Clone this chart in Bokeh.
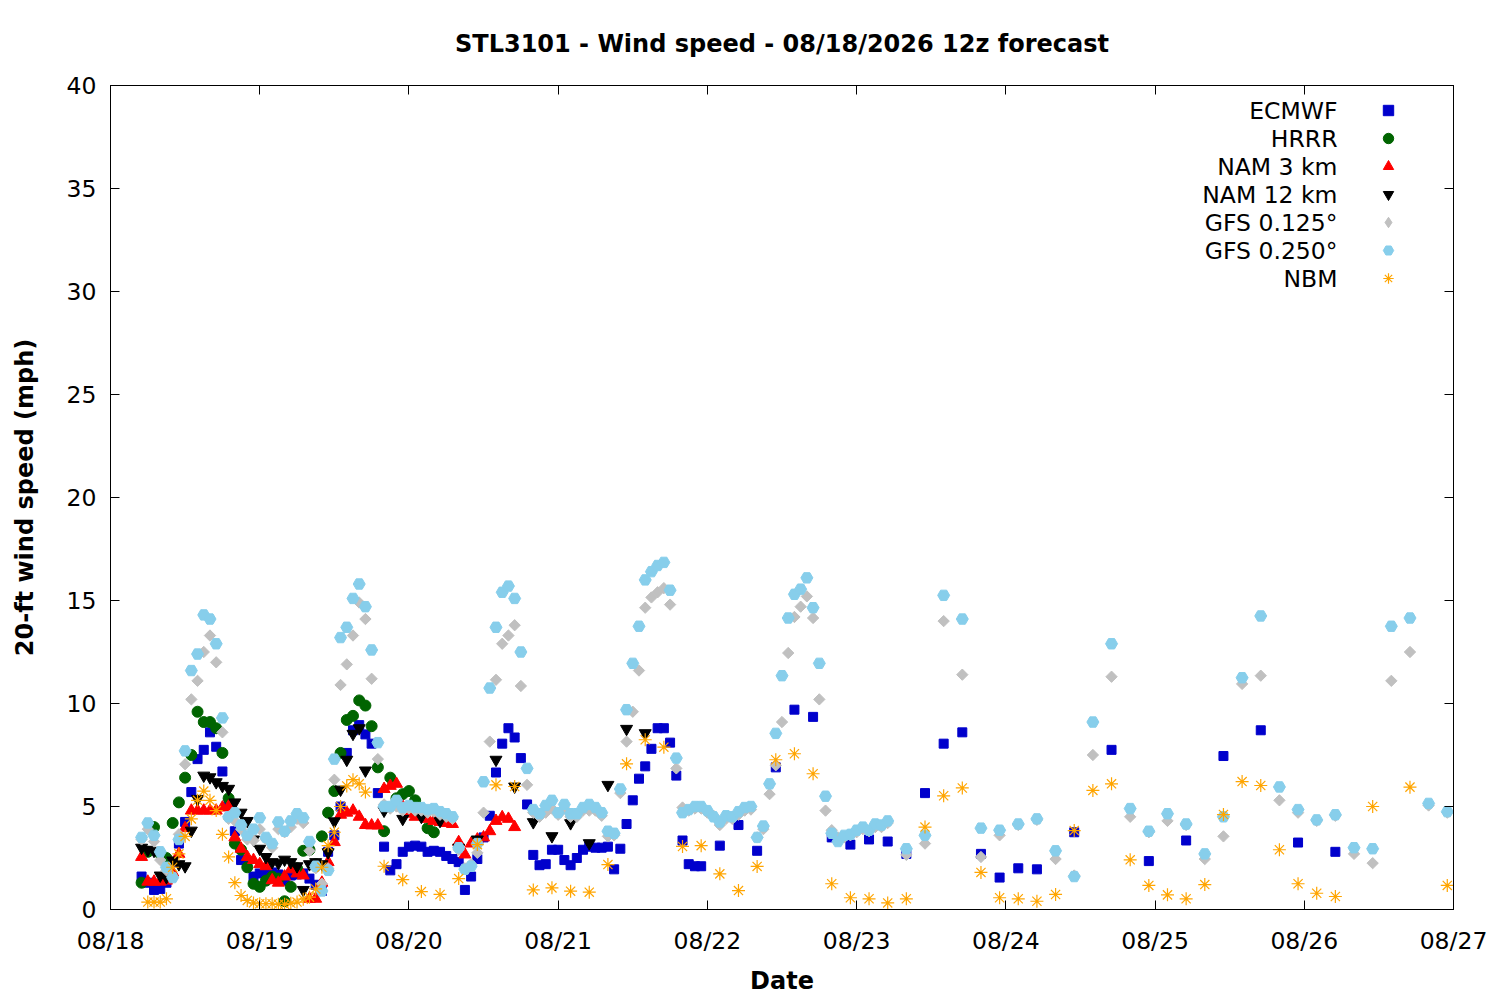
from bokeh.plotting import figure
from bokeh.models import Range1d, FixedTicker, LinearAxis, Legend, LegendItem, Label
from bokeh.embed import file_html
from bokeh.resources import INLINE

FONT = "DejaVu Sans"
FS = "23.5px"

# ---------------- axes / labels ----------------
title_text = "STL3101 - Wind speed - 08/18/2026 12z forecast"
day_labels = ["08/18", "08/19", "08/20", "08/21", "08/22", "08/23", "08/24", "08/25", "08/26", "08/27"]
day_hours = [0, 24, 48, 72, 96, 120, 144, 168, 192, 216]   # hours since 08/18 00:00
y_ticks = [0, 5, 10, 15, 20, 25, 30, 35, 40]
series_names = ["ECMWF", "HRRR", "NAM 3 km", "NAM 12 km", "GFS 0.125\u00b0", "GFS 0.250\u00b0", "NBM"]

# ---------------- data (mph) ----------------
ecmwf_hours = list(range(5, 96)) + list(range(98, 150, 3)) + list(range(155, 198, 6))
ecmwf_mph = [
    1.6, 1.3, 0.95, 1.0, 1.3, 2.3, 3.2, 4.25, 5.7, 7.3,
    7.75, 8.6, 7.9, 6.7, 5.2, 3.8, 2.4, 2.2, 1.6, 1.75,
    1.75, 1.8, 1.7, 1.4, 1.65, 1.7, 1.75, 1.5, 1.2, 0.9,
    2.8, 3.6, 5.0, 7.6, 8.7, 8.95, 8.5, 8.05, 5.65, 3.05,
    1.9, 2.2, 2.8, 3.05, 3.1, 3.05, 2.8, 2.85, 2.8, 2.6,
    2.45, 2.3, 0.95, 1.6, 2.45, 3.5, 4.55, 6.65, 8.05, 8.8,
    8.35, 7.35, 5.1, 2.65, 2.15, 2.2, 2.9, 2.9, 2.4, 2.15,
    2.5, 2.9, 3.05, 3.0, 3.0, 3.05, 1.95, 2.95, 4.15, 5.3,
    6.35, 6.95, 7.8, 8.8, 8.8, 8.1, 6.5, 3.35, 2.2, 2.1, 2.1,
    3.1, 4.1, 2.85, 6.9, 9.7, 9.35, 3.5, 3.15, 3.4, 3.3, 2.7, 5.65, 8.05, 8.6, 2.7, 1.55, 2.0, 1.95,
    3.75, 7.75, 2.35, 3.35, 7.45, 8.7, 3.25, 2.8,
]

hrrr_hours = list(range(5, 53))
hrrr_mph = [
    1.3, 2.8, 4.0, 2.7, 2.5, 4.2, 5.2, 6.4, 7.5, 9.6,
    9.1, 9.1, 8.8, 7.6, 5.4, 3.2, 2.9, 2.05, 1.25, 1.1,
    1.4, 1.6, 1.5, 0.4, 1.1, 2.0, 2.85, 2.9, 2.2, 3.55,
    4.7, 5.75, 7.6, 9.2, 9.4, 10.15, 9.9, 8.9, 6.9, 3.8,
    6.4, 5.4, 5.6, 5.75, 5.3, 4.6, 3.95, 3.75,
]

nam3_hours = list(range(5, 66))
nam3_mph = [
    2.55, 1.35, 1.35, 1.35, 1.4, 1.8, 2.7, 3.95, 4.8, 4.8,
    4.8, 4.8, 4.8, 4.95, 5.0, 3.5, 2.95, 2.55, 2.4, 2.2,
    2.1, 1.42, 1.3, 1.6, 1.95, 1.75, 1.65, 0.52, 0.52, 1.3,
    2.3, 3.27, 4.6, 4.7, 4.8, 4.5, 4.1, 4.08, 4.08, 5.85,
    6.0, 6.1, 5.0, 4.65, 4.5, 4.55, 4.4, 4.3, 4.25, 4.2,
    4.15, 3.27, 2.67, 3.2, 3.4, 3.5, 3.8, 4.3, 4.48, 4.4, 4.0,
]

nam12_hours = list(range(5, 42)) + list(range(44, 87, 3))
nam12_mph = [
    3.0, 2.9, 2.85, 1.65, 1.57, 2.38, 2.2, 2.1, 3.83, 5.37,
    6.5, 6.42, 6.18, 6.0, 5.86, 5.2, 4.7, 4.3, 3.4, 2.95,
    2.55, 2.3, 2.25, 2.42, 2.3, 2.1, 0.95, 2.2, 2.3, 2.2,
    2.78, 4.28, 5.82, 7.27, 8.53, 8.8, 6.75,
    4.8, 4.4, 4.5, 4.3, 3.0, 3.4, 7.27, 5.97, 4.24, 3.56, 4.19, 3.22, 6.05, 8.77, 8.56,
]

gfs_hours = list(range(5, 126)) + list(range(128, 216, 3))
gfs125_mph = [
    3.4, 3.9, 3.3, 2.4, 1.9, 1.6, 3.65, 7.05, 10.2, 11.1,
    12.5, 13.3, 12.0, 8.6, 4.4, 4.3, 3.9, 3.4, 3.35, 3.9,
    3.4, 3.0, 3.9, 3.75, 4.0, 4.4, 4.2, 2.85, 2.0, 1.25,
    2.0, 6.3, 10.9, 11.9, 13.3, 14.9, 14.1, 11.2, 7.3, 5.1,
    4.9, 5.0, 4.8, 4.9, 4.8, 4.8, 4.7, 4.75, 4.6, 4.5,
    4.4, 2.9, 2.0, 2.2, 2.75, 4.7, 8.15, 11.15, 12.9, 13.3,
    13.8, 10.85, 6.05, 4.7, 4.5, 4.7, 4.9, 4.6, 4.9, 4.5,
    4.5, 4.8, 4.8, 4.8, 4.55, 3.55, 3.6, 5.65, 8.15, 9.6,
    11.6, 14.65, 15.15, 15.4, 15.6, 14.8, 6.85, 4.95, 4.8, 4.9,
    4.9, 4.7, 4.55, 4.1, 4.4, 4.4, 4.6, 4.8, 4.85, 3.5,
    3.9, 5.6, 7.0, 9.1, 12.45, 14.2, 14.7, 15.2, 14.15, 10.2,
    4.8, 3.85, 3.5, 3.5, 3.6, 3.75, 3.9, 3.8, 4.0, 4.0, 4.2,
    2.65, 3.2, 14.0, 11.4, 2.55, 3.6, 4.1, 4.35, 2.45, 1.65,
    7.5, 11.3, 4.5, 3.75, 4.3, 4.1, 2.45, 3.55, 10.95, 11.35,
    5.3, 4.7, 4.3, 4.55, 2.7, 2.25, 11.1, 12.5, 5.05, 4.7,
]
gfs250_mph = [
    3.5, 4.2, 3.6, 2.8, 2.05, 1.55, 3.4, 7.7, 11.6, 12.4,
    14.3, 14.1, 12.9, 9.3, 4.5, 4.7, 4.1, 3.6, 3.9, 4.45,
    3.5, 3.2, 4.25, 3.8, 4.3, 4.65, 4.45, 3.3, 2.1, 0.9,
    1.9, 7.3, 13.2, 13.7, 15.1, 15.8, 14.7, 12.6, 8.1, 5.0,
    5.0, 5.3, 4.95, 5.05, 4.95, 4.95, 4.85, 4.9, 4.75, 4.65,
    4.5, 3.0, 1.95, 2.1, 3.2, 6.2, 10.75, 13.7, 15.4, 15.7,
    15.1, 12.5, 6.85, 4.85, 4.65, 5.05, 5.3, 4.7, 5.1, 4.65,
    4.65, 4.95, 5.1, 4.95, 4.7, 3.8, 3.7, 5.85, 9.7, 11.95,
    13.75, 16.0, 16.4, 16.7, 16.85, 15.5, 7.35, 4.7, 4.85, 5.0,
    5.0, 4.8, 4.5, 4.25, 4.55, 4.5, 4.75, 4.95, 5.0, 3.5,
    4.05, 6.1, 8.55, 11.35, 14.15, 15.3, 15.55, 16.1, 14.65, 11.95,
    5.5, 3.7, 3.3, 3.6, 3.65, 3.85, 4.0, 3.85, 4.15, 4.1, 4.3,
    2.95, 3.6, 15.25, 14.1, 3.95, 3.85, 4.15, 4.4, 2.85, 1.6,
    9.1, 12.9, 4.9, 3.8, 4.65, 4.15, 2.7, 4.5, 11.25, 14.25,
    5.95, 4.85, 4.35, 4.6, 3.0, 2.95, 13.75, 14.15, 5.15, 4.75,
]

nbm_hours = list(range(6, 42)) + list(range(44, 198, 3)) + list(range(203, 216, 6))
nbm_mph = [
    0.36, 0.36, 0.36, 0.52, 2.05, 2.7, 3.55, 4.4, 5.3, 5.75,
    5.3, 4.8, 3.65, 2.55, 1.3, 0.68, 0.44, 0.32, 0.28, 0.28,
    0.28, 0.25, 0.25, 0.3, 0.36, 0.5, 0.6, 1.0, 2.05, 3.1,
    3.75, 5.0, 6.0, 6.3, 6.1, 5.7,
    2.1, 1.45, 0.87, 0.73, 1.5, 3.15, 6.05, 5.97, 0.95, 1.05,
    0.89, 0.84, 2.18, 7.07, 8.24, 7.88, 3.06, 3.1, 1.73, 0.92,
    2.09, 7.27, 7.56, 6.59, 1.25, 0.57, 0.52, 0.32, 0.52, 4.0,
    5.52, 5.9, 1.8, 0.57, 0.52, 0.4, 0.73, 3.83, 5.78, 6.1,
    2.41, 1.17, 0.71, 0.52, 1.21, 4.61, 6.21, 6.02, 2.9, 1.25,
    0.79, 0.63,
    5.0, 5.94, 1.17,
]

# ---------------- figure ----------------
p = figure(width=1500, height=1000, output_backend="svg", toolbar_location=None, tools="",
           x_range=Range1d(day_hours[0], day_hours[-1]), y_range=Range1d(y_ticks[0], y_ticks[-1]),
           min_border_left=110, min_border_right=47, min_border_top=85, min_border_bottom=91)
p.background_fill_color = "white"
p.border_fill_color = "white"
p.outline_line_color = "black"
p.outline_line_width = 1
p.xgrid.visible = False
p.ygrid.visible = False

p.title.text = title_text
p.title.align = "center"
p.title.text_font = FONT
p.title.text_font_size = "24px"
p.title.text_font_style = "bold"
p.title.text_color = "black"
p.title.standoff = 55

xax = p.xaxis[0]
yax = p.yaxis[0]
xax.ticker = FixedTicker(ticks=day_hours)
xax.major_label_overrides = {h: lab for h, lab in zip(day_hours, day_labels)}
yax.ticker = FixedTicker(ticks=y_ticks)
xax.axis_label = "Date"
yax.axis_label = "20-ft wind speed (mph)"
for ax in (xax, yax):
    ax.major_tick_in = 9
    ax.major_tick_out = 0
    ax.minor_tick_line_color = None
    ax.axis_line_color = "black"
    ax.major_tick_line_color = "black"
    ax.major_label_text_font = FONT
    ax.major_label_text_font_size = FS
    ax.major_label_text_color = "black"
    ax.axis_label_text_font = FONT
    ax.axis_label_text_font_size = "24px"
    ax.axis_label_text_font_style = "bold"
    ax.axis_label_text_color = "black"
xax.major_label_standoff = 17
xax.axis_label_standoff = 9
yax.major_label_standoff = 14
yax.axis_label_standoff = 25

# mirrored inward ticks on top and right, without labels
top = LinearAxis(ticker=FixedTicker(ticks=day_hours), major_tick_in=9, major_tick_out=0,
                 minor_tick_line_color=None, major_label_text_font_size="2px",
                 major_label_text_color=None, major_label_standoff=0)
right = LinearAxis(ticker=FixedTicker(ticks=y_ticks), major_tick_in=9, major_tick_out=0,
                   minor_tick_line_color=None, major_label_text_font_size="2px",
                   major_label_text_color=None, major_label_standoff=0)
p.add_layout(top, "above")
p.add_layout(right, "right")

# ---------------- scatter series ----------------
r_ec = p.scatter(ecmwf_hours, ecmwf_mph, marker="square", size=9,
                 fill_color="#0000CC", line_color="#0000CC")
r_hr = p.scatter(hrrr_hours, hrrr_mph, marker="circle", size=11,
                 fill_color="#006400", line_color="#006400")
r_n3 = p.scatter(nam3_hours, nam3_mph, marker="triangle", size=12,
                 fill_color="#FF0000", line_color="#FF0000")
r_n12 = p.scatter(nam12_hours, nam12_mph, marker="inverted_triangle", size=12,
                  fill_color="black", line_color="black")
r_g1 = p.scatter(gfs_hours, gfs125_mph, marker="square", angle=0.785398, size=8,
                 fill_color="#C0C0C0", line_color="#C0C0C0")
r_g2 = p.scatter(gfs_hours, gfs250_mph, marker="hex", size=12,
                 fill_color="#87CEEB", line_color="#87CEEB")
r_nbm = p.scatter(nbm_hours, nbm_mph, marker="asterisk", size=13,
                  line_color="#FFA500", line_width=1.2)

# legend-only key glyph for the diamond (legend glyphs ignore the marker angle);
# its single point is NaN, so nothing is drawn in the plot area
r_g1_key = p.scatter(x=[float("nan")], y=[float("nan")], marker="diamond", size=12,
                     fill_color="#C0C0C0", line_color="#C0C0C0")

legend_renderers = [r_ec, r_hr, r_n3, r_n12, r_g1_key, r_g2, r_nbm]

legend = Legend(items=[LegendItem(label=" ", renderers=[r]) for r in legend_renderers],
                location=(1265, 618), glyph_width=26, glyph_height=26, spacing=2,
                padding=0, margin=0, label_standoff=0, label_width=0, label_height=20,
                label_text_font_size="2px", label_text_color=None,
                border_line_color=None, background_fill_alpha=0)
p.add_layout(legend, "center")

for i, name in enumerate(series_names):
    p.add_layout(Label(x=1227, y=799 - 28 * i, x_units="screen", y_units="screen",
                       text=name, text_align="right", text_baseline="middle",
                       text_font=FONT, text_font_size=FS, text_color="black"))

open("out.html", "w").write(file_html(p, INLINE))
